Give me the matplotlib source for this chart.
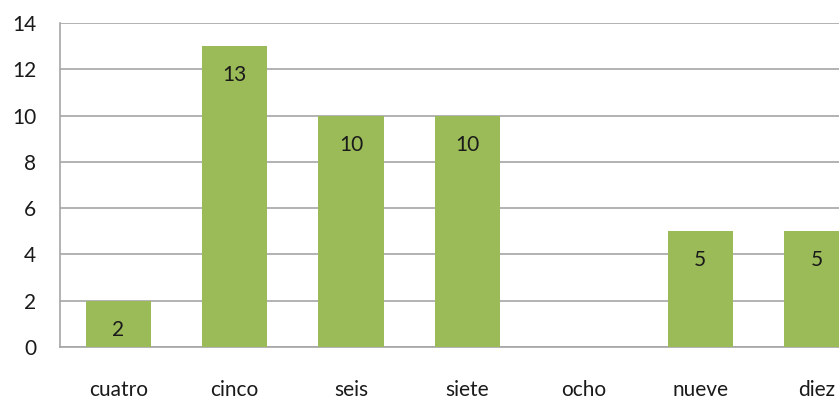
import numpy as np
import matplotlib.pyplot as plt

categories = ["cuatro", "cinco", "seis", "siete", "ocho", "nueve", "diez"]
values = [2, 13, 10, 10, 0, 5, 5]

plt.rcParams["font.family"] = ["Lato", "DejaVu Sans"]

fig = plt.figure(figsize=(8.39, 4.0), dpi=100)
# axes run past the right edge, like the original crop
ax = fig.add_axes([60 / 839, 53 / 400, 815 / 839, 324 / 400])

x = np.arange(len(categories))
bars = ax.bar(x, values, width=0.56, color="#9BBB59", zorder=3)

for b, v in zip(bars, values):
    if v > 0:
        ax.annotate(str(v), (b.get_x() + b.get_width() / 2, v), xytext=(0, -21),
                    textcoords="offset points", ha="center", va="center",
                    fontsize=15, color="#1a1a1a", zorder=4)

ax.set_xlim(-0.5, len(categories) - 0.5)
ax.set_ylim(0, 14)
ax.set_yticks(np.arange(0, 15, 2))
ax.set_xticks(x)
ax.set_xticklabels(categories)
ax.tick_params(axis="both", length=0, labelsize=15, colors="#1a1a1a")
ax.tick_params(axis="x", pad=24)
ax.tick_params(axis="y", pad=17)

ax.yaxis.grid(True, color="#A6A6A6", linewidth=1.2, zorder=0)
for s in ["top", "right"]:
    ax.spines[s].set_visible(False)
for s in ["left", "bottom"]:
    ax.spines[s].set_color("#A6A6A6")
    ax.spines[s].set_linewidth(1.2)

fig.savefig("out.png", dpi=100)
